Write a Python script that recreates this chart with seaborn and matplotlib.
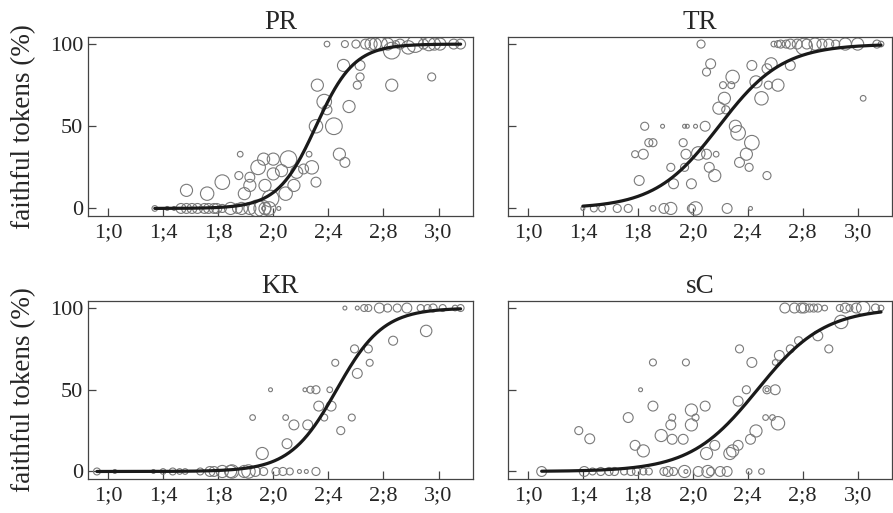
import numpy as np
import pandas as pd
import matplotlib
matplotlib.use("Agg")
import matplotlib.pyplot as plt
import seaborn as sns

# Ages in months, % faithful tokens, number of tokens (circle size)
pr_age = [15.4, 16.3, 16.8, 17.3, 17.7, 18.1, 18.5, 19.0, 19.3, 19.7, 19.9, 20.3, 20.9, 21.4, 21.7, 22.3,
          22.8, 23.2, 23.3, 23.4, 23.7, 24.4,
          17.7, 19.2, 20.3, 21.6, 21.5, 21.9, 22.3, 22.3, 22.9, 23.3, 23.4, 23.8, 24.0, 24.0, 24.6, 24.9,
          25.1, 25.5, 25.7, 26.2, 26.6, 26.8, 27.1, 27.1, 27.7, 27.9, 28.4, 27.2, 27.9, 29.2, 29.1, 29.5,
          28.8, 29.2, 30.1, 30.3, 30.3, 30.0, 30.7, 31.1, 31.4, 31.8, 32.3, 32.6, 32.6, 32.9, 33.2, 33.8,
          34.3, 34.9, 35.3, 35.7, 35.5, 36.1, 37.1, 37.6]
pr_pct = [0, 0, 0, 0, 0, 0, 0, 0, 0, 0, 0, 0, 0, 0, 0, 0,
          0, 0, 0, 0, 0, 0,
          11, 9, 16, 33, 20, 9, 14, 19, 25, 30, 14, 6, 30, 21, 23, 9,
          30, 14, 22, 24, 33, 25, 16, 50, 65, 60, 50, 75, 100, 100, 87, 62,
          33, 28, 75, 80, 87, 100, 100, 100, 100, 100, 100, 96, 75, 100, 100, 98,
          100, 100, 100, 100, 80, 100, 100, 100]
pr_n = [2, 1, 1, 6, 6, 6, 6, 6, 6, 6, 6, 4, 9, 6, 9, 9,
        17, 17, 1, 9, 11, 1,
        9, 11, 13, 2, 4, 9, 9, 6, 13, 9, 9, 17, 9, 9, 9, 11,
        17, 9, 9, 6, 2, 11, 6, 11, 13, 6, 17, 9, 2, 3, 9, 9,
        9, 6, 4, 4, 6, 4, 6, 9, 9, 11, 9, 17, 9, 3, 6, 11,
        17, 6, 11, 9, 4, 9, 6, 6]

tr_age = [16.0, 16.8, 17.4, 18.5, 19.3, 21.1, 21.9, 22.4, 23.9, 24.2, 26.5, 28.2,
          24.6, 25.3, 25.0, 26.9, 26.2, 26.8, 26.3, 25.9, 26.4, 27.1, 27.3, 28.3, 28.6, 29.0, 29.7, 29.4,
          30.2, 29.5, 31.1, 28.3, 27.9, 27.4, 28.1, 29.4, 25.7, 25.0, 24.4, 23.5, 23.4, 23.3, 22.4, 22.6,
          23.9, 25.2, 25.6, 20.1, 19.8, 20.4, 20.8, 21.1, 20.5, 21.8, 23.4, 23.6, 24.2, 24.9, 36.4,
          29.9, 30.2, 30.4, 30.8, 31.1, 31.6, 32.1, 32.3, 32.9, 33.4, 33.9, 34.4, 35.1, 36.0, 37.4, 37.7]
tr_pct = [0, 0, 0, 0, 0, 0, 0, 0, 0, 0, 0, 0,
          100, 88, 83, 80, 75, 75, 67, 61, 60, 50, 46, 87, 77, 67, 88, 85,
          75, 75, 87, 40, 33, 28, 25, 20, 33, 33, 33.5, 33, 25, 40, 25, 15,
          15, 25, 20, 17, 33, 33, 40, 40, 50, 50, 50, 50, 50, 50, 67,
          100, 100, 100, 100, 100, 100, 98.5, 100, 100, 100, 100, 100, 100, 100, 100, 100]
tr_n = [1, 3, 3, 4, 4, 2, 6, 9, 4, 11, 6, 1,
        4, 6, 4, 11, 3, 3, 9, 9, 4, 9, 13, 6, 9, 11, 9, 6,
        9, 4, 6, 13, 9, 6, 4, 4, 2, 6, 11, 6, 4, 4, 4, 6,
        6, 6, 9, 6, 3, 6, 4, 4, 4, 1, 1, 1, 1, 6, 2,
        2, 3, 4, 4, 6, 6, 17, 6, 9, 6, 6, 4, 9, 9, 4, 2]

kr_age = [11.2, 12.5, 15.3, 16.0, 16.7, 17.2, 17.6, 18.7, 19.4, 19.7, 20.3, 20.9, 21.0, 21.9, 22.2, 22.7,
          23.3, 24.2, 24.7, 25.2, 25.9, 26.4, 27.1,
          22.5, 23.2, 23.8, 24.9, 25.0, 25.5, 26.3, 26.7, 27.1, 26.5, 27.3, 27.7, 28.1, 28.2, 28.5, 28.9,
          29.7, 29.9, 30.1, 30.9, 31.0, 32.7, 35.1, 29.2,
          30.1, 30.6, 30.9, 31.7, 32.3, 33.0, 33.7, 34.7, 35.2, 35.6, 36.3, 37.2, 37.6]
kr_pct = [0, 0, 0, 0, 0, 0, 0, 0, 0, 0, 0, 0, 0, 0, 0, 0,
          0, 0, 0, 0, 0, 0, 0,
          33, 11, 50, 33, 17, 28.5, 50, 50, 50, 28.5, 40, 33, 50, 40, 66.5, 25,
          33, 75, 60, 75, 66.5, 80, 86, 100,
          100, 100, 100, 100, 100, 100, 100, 100, 100, 100, 100, 100, 100]
kr_n = [3, 1, 1, 2, 3, 2, 2, 3, 6, 6, 9, 9, 11, 9, 11, 6,
        4, 4, 4, 3, 1, 1, 4,
        2, 9, 1, 2, 6, 6, 1, 3, 4, 6, 6, 3, 2, 6, 3, 4,
        3, 4, 6, 4, 3, 5, 8, 1,
        1, 3, 3, 6, 4, 4, 6, 3, 3, 4, 3, 2, 3]

sc_age = [13.0, 16.1, 16.7, 17.3, 17.9, 18.3, 19.0, 19.5, 19.9, 20.4, 20.8, 21.9, 22.2, 22.6, 23.4, 23.5,
          24.4, 25.1, 25.3, 26.0, 26.5, 28.1, 29.0,
          15.7, 16.5, 19.3, 19.8, 20.4, 21.1, 20.2, 21.1, 21.7, 22.4, 22.5, 22.5, 23.3, 23.5, 23.9, 23.9,
          24.2, 24.9, 25.0, 25.6, 26.7, 26.9, 27.3, 27.3, 27.4, 27.9, 28.3, 28.2, 28.6, 29.3, 29.4, 29.4,
          29.8, 30.0, 30.2, 30.3, 30.0, 31.1, 31.7, 33.1, 33.9, 34.8,
          30.7, 31.4, 31.9, 32.1, 32.5, 32.8, 33.1, 33.6, 34.7, 35.1, 35.4, 35.9, 36.4, 37.3, 37.7]
sc_pct = [0, 0, 0, 0, 0, 0, 0, 0, 0, 0, 0, 0, 0, 0, 0, 0,
          0, 0, 0, 0, 0, 0, 0,
          25, 20, 33, 16, 12.6, 66.7, 50, 40, 22, 28.5, 33, 19.7, 19.7, 66.7, 37.6, 28.5,
          33, 40, 11, 16, 11, 12.6, 16, 43, 75, 50, 66.7, 19.7, 24.8, 33, 50, 50,
          33, 50, 29.5, 71, 66.7, 75, 80, 83, 75, 91.5,
          100, 100, 100, 100, 100, 100, 100, 100, 100, 100, 100, 100, 100, 100, 100]
sc_n = [6, 6, 3, 4, 4, 4, 3, 4, 4, 3, 3, 4, 6, 4, 9, 1,
        6, 9, 4, 6, 6, 2, 2,
        4, 6, 6, 6, 9, 3, 1, 6, 9, 6, 3, 6, 6, 3, 9, 9,
        3, 6, 9, 6, 9, 9, 6, 6, 4, 4, 6, 6, 9, 2, 4, 1,
        2, 6, 11, 6, 2, 4, 4, 6, 4, 11,
        6, 6, 6, 6, 4, 4, 4, 2, 3, 6, 3, 6, 11, 4, 2]

panels = ["PR", "TR", "KR", "sC"]
ages = [pr_age, tr_age, kr_age, sc_age]
pcts = [pr_pct, tr_pct, kr_pct, sc_pct]
ns = [pr_n, tr_n, kr_n, sc_n]

# fitted logistic curves: midpoint (months) and slope
fit_mid = [27.1, 25.9, 28.6, 28.7]
fit_slope = [0.72, 0.43, 0.59, 0.41]

tick_months = [12, 16, 20, 24, 28, 32, 36]
tick_labels = ["1;0", "1;4", "1;8", "2;0", "2;4", "2;8", "3;0"]

sns.set_style("ticks")
plt.rcParams["font.family"] = ["Liberation Serif", "DejaVu Serif"]

fig, axes = plt.subplots(2, 2, figsize=(8.93, 5.13), dpi=100)
axes = axes.flatten()

W, H = 893, 513
boxes = [(88, 37, 473, 216), (508, 37, 892, 216), (88, 301, 473, 479), (508, 301, 892, 479)]

for i, ax in enumerate(axes):
    df = pd.DataFrame({"age": ages[i], "pct": pcts[i], "n": ns[i]})
    sns.scatterplot(data=df, x="age", y="pct", size="n", sizes=(8, 144), size_norm=(1, 17),
                    facecolor="none", edgecolor="#7a7a7a", linewidth=0.8, legend=False, ax=ax)
    grid = np.linspace(df["age"].min(), df["age"].max(), 300)
    curve = pd.DataFrame({"age": grid,
                          "pct": 100 / (1 + np.exp(-fit_slope[i] * (grid - fit_mid[i])))})
    sns.lineplot(data=curve, x="age", y="pct", color="#1a1a1a", linewidth=2.3, ax=ax)

    ax.set_xlim(10.55, 38.5)
    ax.set_ylim(-4.6, 104.3)
    ax.set_xticks(tick_months, tick_labels)
    ax.set_yticks([0, 50, 100])
    ax.tick_params(direction="in", length=5.5, width=0.9, color="#444444", labelsize=16)
    ax.tick_params(axis="x", pad=5)
    ax.tick_params(axis="y", pad=3.5)
    for s in ax.spines.values():
        s.set_color("#444444")
        s.set_linewidth(0.9)
    ax.set_title(panels[i], fontsize=19.5, pad=6)
    ax.set_xlabel("")
    if i % 2 == 0:
        ax.set_ylabel("faithful tokens (%)", fontsize=19.5, labelpad=10)
    else:
        ax.set_ylabel("")
        ax.set_yticklabels([])

    l, t, r, b = boxes[i]
    ax.set_position([l / W, 1 - b / H, (r - l) / W, (b - t) / H])

fig.savefig("out.png", dpi=100)
